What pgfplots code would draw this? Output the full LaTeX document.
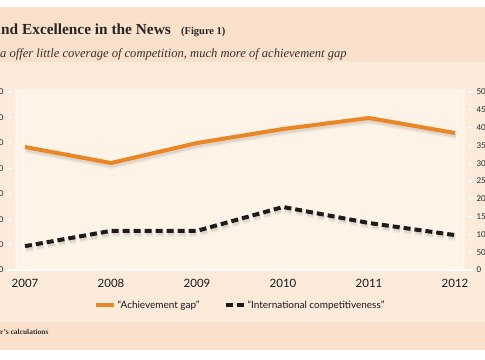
\documentclass[border=0pt]{standalone}
\usepackage{pgfplots}
\pgfplotsset{compat=1.18}
\usepackage{fontspec}
\setmainfont{Liberation Serif}
\newfontfamily\lato{Lato}
\definecolor{hdr}{RGB}{251,225,203}
\definecolor{panel}{RGB}{252,235,219}
\definecolor{plotbg}{RGB}{253,243,231}
\definecolor{orng}{RGB}{234,134,38}
\definecolor{blk}{RGB}{28,28,28}
\begin{document}
\begin{tikzpicture}
\useasboundingbox (0,0) rectangle (485bp,-360bp);
\clip (0,0) rectangle (485bp,-360bp);
\begin{scope}[x=1bp,y=-1bp]
\fill[white] (0,0) rectangle (485,360);
\fill[hdr] (0,7) rectangle (485,350);
\fill[panel] (0,62) rectangle (485,322);
\fill[plotbg] (15,89) rectangle (465,270);
\node[anchor=base east, font=\bfseries\fontsize{15.4}{18}\selectfont, inner sep=0, text=black!85] at (1,34) {Achievement Gap a};
\node[anchor=base west, font=\bfseries\fontsize{15.4}{18}\selectfont, inner sep=0, text=black!85] at (1,34) {nd Excellence in the News};
\node[anchor=base west, font=\bfseries\fontsize{10.5}{13}\selectfont, inner sep=0, text=black!85] at (181,34) {(Figure 1)};
\node[anchor=base east, font=\itshape\fontsize{12.6}{14}\selectfont, inner sep=0, text=black!80] at (0,57) {News medi};
\node[anchor=base west, font=\itshape\fontsize{12.6}{14}\selectfont, inner sep=0, text=black!80] at (0,57) {a offer little coverage of competition, much more of achievement gap};
\node[anchor=base east, font=\bfseries\fontsize{7.5}{9}\selectfont, inner sep=0, text=black!80] at (0,334) {Source: Autho};
\node[anchor=base west, font=\bfseries\fontsize{7.5}{9}\selectfont, inner sep=0, text=black!80] at (0,334) {r's calculations};
\end{scope}

\begin{axis}[
  at={(7bp,-270bp)}, anchor=south west,
  scale only axis, width=466bp, height=178bp,
  xmin=2006.7907, xmax=2012.2093, ymin=0, ymax=350,
  axis x line*=bottom, axis y line*=left,
  x axis line style={white, line width=1.5bp, -},
  y axis line style={draw=none},
  xtick={2007,2008,2009,2010,2011,2012},
  xticklabels={2007,2008,2009,2010,2011,2012},
  xtick style={draw=none},
  ytick={0,50,...,350},
  tick align=inside, major tick length=5bp,
  ytick style={white, line width=1.2bp},
  /pgf/number format/assume math mode=true,
  xticklabel style={font=\lato\fontsize{11.5}{13}\selectfont, text=black!90, yshift=-6bp},
  yticklabel style={font=\lato\fontsize{8}{10}\selectfont, text=black!85},
  extra x ticks={2006.977,2012.023}, extra x tick labels={},
  extra x tick style={grid=major, major grid style={white, line width=1bp, opacity=0.8}},
  clip=false,
]
\addplot[black, opacity=0.05, line width=7bp, forget plot, transform canvas={xshift=1bp,yshift=-2.5bp}] coordinates {(2007,241.9) (2008,210.4) (2009,249.7) (2010,277.2) (2011,298.9) (2012,269.4)};
\addplot[black, opacity=0.07, line width=4bp, forget plot, transform canvas={xshift=1bp,yshift=-2.5bp}] coordinates {(2007,241.9) (2008,210.4) (2009,249.7) (2010,277.2) (2011,298.9) (2012,269.4)};
\addplot[orng, line width=4bp, line join=round] coordinates {(2007,241.9) (2008,210.4) (2009,249.7) (2010,277.2) (2011,298.9) (2012,269.4)};
\end{axis}

\begin{axis}[
  at={(7bp,-270bp)}, anchor=south west,
  scale only axis, width=466bp, height=178bp,
  xmin=2006.7907, xmax=2012.2093, ymin=0, ymax=500,
  axis x line=none, axis y line*=right,
  y axis line style={draw=none},
  ytick={0,50,...,500},
  tick align=inside, major tick length=5bp,
  ytick style={white, line width=1.2bp},
  /pgf/number format/assume math mode=true,
  yticklabel style={font=\lato\fontsize{8}{10}\selectfont, text=black!85},
  clip=false,
  legend style={at={(0.5,-0.197)}, anchor=center, draw=none, fill=none,
    font=\lato\fontsize{10}{12}\selectfont, text=black!90,
    /tikz/every even column/.append style={column sep=22bp},
    nodes={inner sep=2bp}},
  legend columns=2,
  legend cell align=left,
  legend image code/.code={\draw[#1] (0bp,0bp) -- (18bp,0bp);},
]
\addlegendimage{orng, line width=4bp}
\addlegendentry{“Achievement gap”}
\addplot[black, opacity=0.05, line width=7bp, forget plot, dash pattern=on 7bp off 4bp, transform canvas={xshift=1bp,yshift=-2.5bp}] coordinates {(2007,67) (2008,110) (2009,110) (2010,177) (2011,132) (2012,98)};
\addplot[black, opacity=0.07, line width=4bp, forget plot, dash pattern=on 7bp off 4bp, transform canvas={xshift=1bp,yshift=-2.5bp}] coordinates {(2007,67) (2008,110) (2009,110) (2010,177) (2011,132) (2012,98)};
\addplot[blk, line width=4bp, dash pattern=on 7bp off 4bp] coordinates {(2007,67) (2008,110) (2009,110) (2010,177) (2011,132) (2012,98)};
\addlegendentry{“International competitiveness”}
\end{axis}
\end{tikzpicture}
\end{document}
